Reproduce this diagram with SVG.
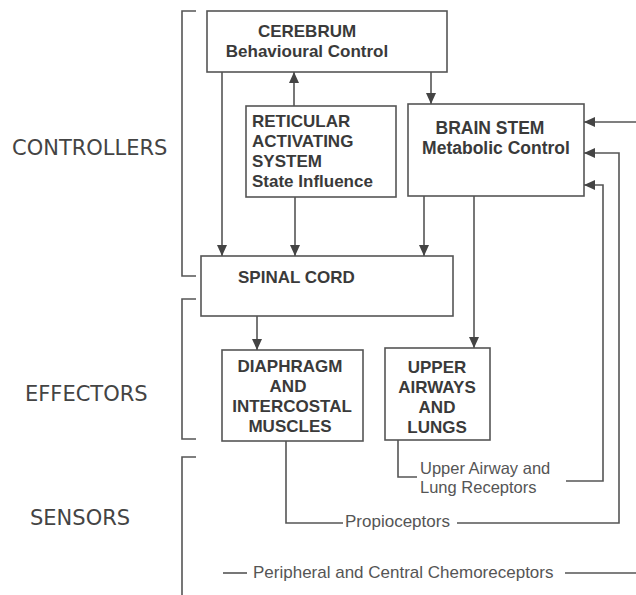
<svg xmlns="http://www.w3.org/2000/svg" width="636" height="595" viewBox="0 0 636 595">
<style>
.box{fill:#fff;stroke:#555;stroke-width:1.6}
.ln{fill:none;stroke:#555;stroke-width:1.6}
.arr{marker-end:url(#ah)}
.b{font-family:"Liberation Sans",Arial,sans-serif;font-weight:bold;font-size:17px;fill:#3a3a3a}
.s{font-family:"Liberation Sans",Arial,sans-serif;font-size:17px;fill:#555}
.g{font-family:"DejaVu Sans",Verdana,sans-serif;font-size:21px;fill:#444}
.m{text-anchor:middle}
</style>
<defs>
<marker id="ah" markerUnits="userSpaceOnUse" markerWidth="11" markerHeight="10" viewBox="0 0 11 10" refX="11" refY="5" orient="auto">
<path d="M0,0 L11,5 L0,10 z" fill="#444"/>
</marker>
</defs>
<rect width="636" height="595" fill="#fff"/>

<g id="brackets">
<path class="ln" d="M196,11 H182 V276 H196"/>
<path class="ln" d="M196,299 H182 V439 H196"/>
<path class="ln" d="M196,457 H182 V600"/>
<text class="g" x="12" y="155">CONTROLLERS</text>
<text class="g" x="25" y="401">EFFECTORS</text>
<text class="g" x="30" y="525">SENSORS</text>
</g>

<g id="cerebrum">
<rect class="box" x="207" y="11" width="240" height="61"/>
<text class="b m" x="307" y="37">CEREBRUM</text>
<text class="b m" x="307" y="57">Behavioural Control</text>
</g>

<g id="reticular">
<rect class="box" x="246" y="106" width="150" height="91"/>
<text class="b" x="252" y="127">RETICULAR</text>
<text class="b" x="252" y="147">ACTIVATING</text>
<text class="b" x="252" y="167">SYSTEM</text>
<text class="b" x="252" y="187">State Influence</text>
</g>

<g id="brainstem">
<rect class="box" x="408" y="104" width="176" height="92"/>
<text class="b m" x="490" y="134" style="font-size:17.5px">BRAIN STEM</text>
<text class="b m" x="496" y="154" style="font-size:17.5px">Metabolic Control</text>
</g>

<g id="spinal">
<rect class="box" x="201" y="256" width="252" height="60"/>
<text class="b" x="238" y="283">SPINAL CORD</text>
</g>

<g id="diaphragm">
<rect class="box" x="222" y="350" width="141" height="91"/>
<text class="b m" x="290" y="372">DIAPHRAGM</text>
<text class="b m" x="288" y="392">AND</text>
<text class="b m" x="292" y="412">INTERCOSTAL</text>
<text class="b m" x="290" y="432">MUSCLES</text>
</g>

<g id="upperairways">
<rect class="box" x="385" y="348" width="105" height="92"/>
<text class="b m" x="437" y="373">UPPER</text>
<text class="b m" x="437" y="393">AIRWAYS</text>
<text class="b m" x="437" y="413">AND</text>
<text class="b m" x="437" y="433">LUNGS</text>
</g>

<g id="connectors">
<path class="ln arr" d="M222,72 V256"/>
<path class="ln arr" d="M431,72 V104"/>
<path class="ln arr" d="M294,106 V72"/>
<path class="ln arr" d="M295,197 V256"/>
<path class="ln arr" d="M424,196 V256"/>
<path class="ln arr" d="M474,196 V348"/>
<path class="ln arr" d="M257,316 V350"/>
<path class="ln" d="M398,440 V477 H417"/>
<path class="ln arr" d="M566,481 H603 V185 H584"/>
<path class="ln" d="M286,441 V523 H343"/>
<path class="ln arr" d="M457,523 H619 V153 H584"/>
<path class="ln" d="M223,573 H247"/>
<path class="ln arr" d="M565,573 H640 V122 H584"/>
<text class="s" x="420" y="474" style="font-size:16.5px">Upper Airway and</text>
<text class="s" x="420" y="493" style="font-size:16.5px">Lung Receptors</text>
<text class="s" x="345" y="527">Propioceptors</text>
<text class="s" x="253" y="578">Peripheral and Central Chemoreceptors</text>
</g>
</svg>
